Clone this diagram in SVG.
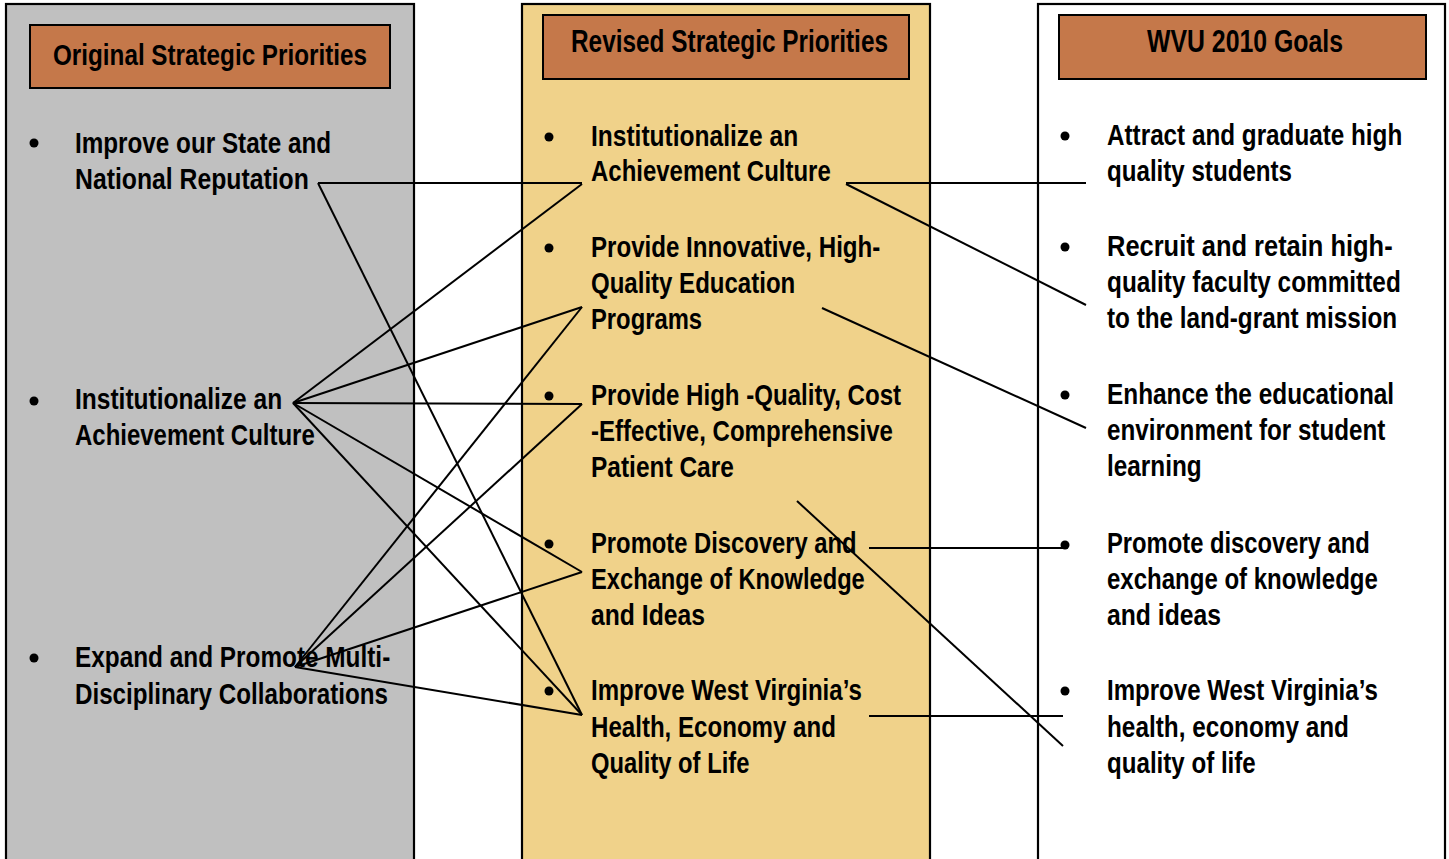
<svg xmlns="http://www.w3.org/2000/svg" width="1449" height="859" viewBox="0 0 1449 859">
  <style>
    .panel { stroke: #000; stroke-width: 2.2; }
    .head { fill: #C5784A; stroke: #000; stroke-width: 2; }
    .htxt { font-family: "Liberation Sans", Arial, sans-serif; font-weight: bold; font-size: 29px; fill: #000; }
    .htxt-tight { font-family: "Liberation Sans", Arial, sans-serif; font-weight: bold; font-size: 32px; fill: #000; }
    .txt { font-family: "Liberation Sans", Arial, sans-serif; font-weight: bold; font-size: 29px; fill: #000; }
    .bul { fill: #000; }
    .conn line { stroke: #000; stroke-width: 2; }
  </style>

  <!-- column panels -->
  <g id="col-original">
    <rect class="panel" x="6" y="4" width="408" height="870" fill="#C0C0C0"/>
    <rect class="head" x="30" y="25" width="360" height="63"/>
    <text class="htxt" x="53" y="65" textLength="314" lengthAdjust="spacingAndGlyphs">Original Strategic Priorities</text>
  </g>
  <g id="col-revised">
    <rect class="panel" x="522" y="4" width="408" height="870" fill="#F0D28A"/>
    <rect class="head" x="543" y="15" width="366" height="64"/>
    <text class="htxt-tight" x="571" y="52" textLength="317" lengthAdjust="spacingAndGlyphs">Revised Strategic Priorities</text>
  </g>
  <g id="col-goals">
    <rect class="panel" x="1038" y="4" width="407" height="870" fill="#FFFFFF"/>
    <rect class="head" x="1059" y="15" width="367" height="64"/>
    <text class="htxt-tight" x="1147" y="52" textLength="196" lengthAdjust="spacingAndGlyphs">WVU 2010 Goals</text>
  </g>

  <!-- original priorities (condensed text blocks) -->
  <g id="orig-reputation">
    <circle class="bul" cx="34" cy="143" r="4.5"/>
    <g transform="translate(75 0) scale(0.74 1)">
      <text class="txt" x="0" y="153" textLength="346" lengthAdjust="spacingAndGlyphs">Improve our State and</text>
      <text class="txt" x="0" y="189" textLength="316" lengthAdjust="spacingAndGlyphs">National Reputation</text>
    </g>
  </g>
  <g id="orig-achievement">
    <circle class="bul" cx="34" cy="401" r="4.5"/>
    <g transform="translate(75 0) scale(0.74 1)">
      <text class="txt" x="0" y="409" textLength="280" lengthAdjust="spacingAndGlyphs">Institutionalize an</text>
      <text class="txt" x="0" y="445" textLength="324" lengthAdjust="spacingAndGlyphs">Achievement Culture</text>
    </g>
  </g>
  <g id="orig-collab">
    <circle class="bul" cx="34" cy="658" r="4.5"/>
    <g transform="translate(75 0) scale(0.74 1)">
      <text class="txt" x="0" y="667" textLength="426" lengthAdjust="spacingAndGlyphs">Expand and Promote Multi-</text>
      <text class="txt" x="0" y="704" textLength="423" lengthAdjust="spacingAndGlyphs">Disciplinary Collaborations</text>
    </g>
  </g>

  <!-- revised priorities -->
  <g id="rev-achievement">
    <circle class="bul" cx="549" cy="137" r="4.5"/>
    <g transform="translate(591 0) scale(0.74 1)">
      <text class="txt" x="0" y="146" textLength="280" lengthAdjust="spacingAndGlyphs">Institutionalize an</text>
      <text class="txt" x="0" y="181" textLength="324" lengthAdjust="spacingAndGlyphs">Achievement Culture</text>
    </g>
  </g>
  <g id="rev-education">
    <circle class="bul" cx="549" cy="248" r="4.5"/>
    <g transform="translate(591 0) scale(0.74 1)">
      <text class="txt" x="0" y="257" textLength="391" lengthAdjust="spacingAndGlyphs">Provide Innovative, High-</text>
      <text class="txt" x="0" y="293" textLength="276" lengthAdjust="spacingAndGlyphs">Quality Education</text>
      <text class="txt" x="0" y="329" textLength="150" lengthAdjust="spacingAndGlyphs">Programs</text>
    </g>
  </g>
  <g id="rev-patient">
    <circle class="bul" cx="549" cy="396" r="4.5"/>
    <g transform="translate(591 0) scale(0.74 1)">
      <text class="txt" x="0" y="405" textLength="419" lengthAdjust="spacingAndGlyphs">Provide High -Quality, Cost</text>
      <text class="txt" x="0" y="441" textLength="408" lengthAdjust="spacingAndGlyphs">-Effective, Comprehensive</text>
      <text class="txt" x="0" y="477" textLength="193" lengthAdjust="spacingAndGlyphs">Patient Care</text>
    </g>
  </g>
  <g id="rev-discovery">
    <circle class="bul" cx="549" cy="544" r="4.5"/>
    <g transform="translate(591 0) scale(0.74 1)">
      <text class="txt" x="0" y="553" textLength="359" lengthAdjust="spacingAndGlyphs">Promote Discovery and</text>
      <text class="txt" x="0" y="589" textLength="370" lengthAdjust="spacingAndGlyphs">Exchange of Knowledge</text>
      <text class="txt" x="0" y="625" textLength="154" lengthAdjust="spacingAndGlyphs">and Ideas</text>
    </g>
  </g>
  <g id="rev-wv">
    <circle class="bul" cx="549" cy="691" r="4.5"/>
    <g transform="translate(591 0) scale(0.74 1)">
      <text class="txt" x="0" y="700" textLength="366" lengthAdjust="spacingAndGlyphs">Improve West Virginia’s</text>
      <text class="txt" x="0" y="737" textLength="331" lengthAdjust="spacingAndGlyphs">Health, Economy and</text>
      <text class="txt" x="0" y="773" textLength="214" lengthAdjust="spacingAndGlyphs">Quality of Life</text>
    </g>
  </g>

  <!-- WVU 2010 goals -->
  <g id="goal-students">
    <circle class="bul" cx="1065" cy="136" r="4.5"/>
    <g transform="translate(1107 0) scale(0.74 1)">
      <text class="txt" x="0" y="145" textLength="399" lengthAdjust="spacingAndGlyphs">Attract and graduate high</text>
      <text class="txt" x="0" y="181" textLength="250" lengthAdjust="spacingAndGlyphs">quality students</text>
    </g>
  </g>
  <g id="goal-faculty">
    <circle class="bul" cx="1065" cy="247" r="4.5"/>
    <g transform="translate(1107 0) scale(0.74 1)">
      <text class="txt" x="0" y="256" textLength="386" lengthAdjust="spacingAndGlyphs">Recruit and retain high-</text>
      <text class="txt" x="0" y="292" textLength="397" lengthAdjust="spacingAndGlyphs">quality faculty committed</text>
      <text class="txt" x="0" y="328" textLength="392" lengthAdjust="spacingAndGlyphs">to the land-grant mission</text>
    </g>
  </g>
  <g id="goal-environment">
    <circle class="bul" cx="1065" cy="395" r="4.5"/>
    <g transform="translate(1107 0) scale(0.74 1)">
      <text class="txt" x="0" y="404" textLength="388" lengthAdjust="spacingAndGlyphs">Enhance the educational</text>
      <text class="txt" x="0" y="440" textLength="376" lengthAdjust="spacingAndGlyphs">environment for student</text>
      <text class="txt" x="0" y="476" textLength="128" lengthAdjust="spacingAndGlyphs">learning</text>
    </g>
  </g>
  <g id="goal-discovery">
    <circle class="bul" cx="1065" cy="545" r="4.5"/>
    <g transform="translate(1107 0) scale(0.74 1)">
      <text class="txt" x="0" y="553" textLength="355" lengthAdjust="spacingAndGlyphs">Promote discovery and</text>
      <text class="txt" x="0" y="589" textLength="366" lengthAdjust="spacingAndGlyphs">exchange of knowledge</text>
      <text class="txt" x="0" y="625" textLength="154" lengthAdjust="spacingAndGlyphs">and ideas</text>
    </g>
  </g>
  <g id="goal-wv">
    <circle class="bul" cx="1065" cy="691" r="4.5"/>
    <g transform="translate(1107 0) scale(0.74 1)">
      <text class="txt" x="0" y="700" textLength="366" lengthAdjust="spacingAndGlyphs">Improve West Virginia’s</text>
      <text class="txt" x="0" y="737" textLength="327" lengthAdjust="spacingAndGlyphs">health, economy and</text>
      <text class="txt" x="0" y="773" textLength="201" lengthAdjust="spacingAndGlyphs">quality of life</text>
    </g>
  </g>

  <!-- mapping lines -->
  <g id="connectors" class="conn">
    <!-- original -> revised -->
    <line x1="318" y1="183" x2="582" y2="183"/>
    <line x1="318" y1="183" x2="582" y2="715"/>
    <line x1="293" y1="403" x2="582" y2="184"/>
    <line x1="293" y1="403" x2="582" y2="307"/>
    <line x1="293" y1="403" x2="582" y2="404"/>
    <line x1="293" y1="403" x2="582" y2="572"/>
    <line x1="293" y1="403" x2="582" y2="715"/>
    <line x1="295" y1="667" x2="582" y2="307"/>
    <line x1="295" y1="667" x2="582" y2="404"/>
    <line x1="295" y1="667" x2="582" y2="572"/>
    <line x1="295" y1="667" x2="582" y2="715"/>
    <!-- revised -> goals -->
    <line x1="846" y1="183" x2="1086" y2="183"/>
    <line x1="846" y1="184" x2="1086" y2="305"/>
    <line x1="822" y1="308" x2="1086" y2="428"/>
    <line x1="797" y1="501" x2="1063" y2="746"/>
    <line x1="869" y1="548" x2="1065" y2="548"/>
    <line x1="869" y1="716" x2="1063" y2="716"/>
  </g>
</svg>
